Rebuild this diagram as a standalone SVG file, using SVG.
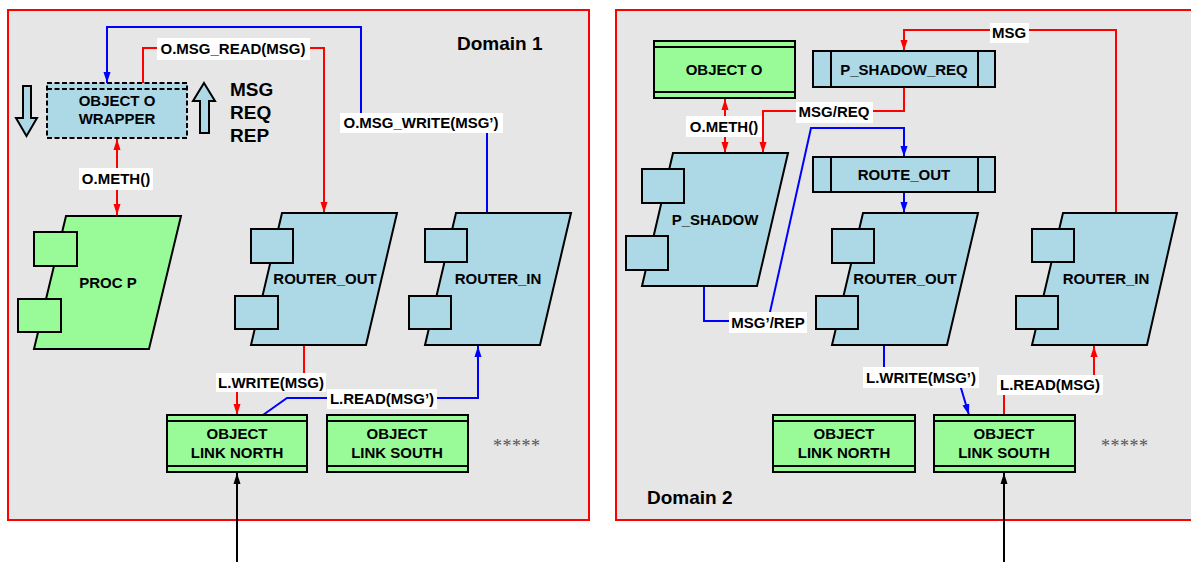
<svg xmlns="http://www.w3.org/2000/svg" width="1191" height="562" viewBox="0 0 1191 562">
<style>
text{font-family:"Liberation Sans",Arial,sans-serif;font-weight:bold;fill:#000}
.t{font-size:15px;text-anchor:middle}
.lbl{font-size:15px;text-anchor:middle}
.big{font-size:19px}
.dom{fill:#e6e6e6;stroke:#ff0000;stroke-width:2}
.g{fill:#98fb98;stroke:#000;stroke-width:2}
.b{fill:#add8e6;stroke:#000;stroke-width:2}
.ln{fill:none;stroke:#000;stroke-width:2}
.lb{fill:#fff}
.r{fill:none;stroke:#ff0000;stroke-width:2}
.bl{fill:none;stroke:#0000ff;stroke-width:2}
.k{fill:none;stroke:#000;stroke-width:2}
.star{font-family:"Liberation Serif","Times New Roman",serif;font-weight:normal;font-size:18px;fill:#555}
</style>
<defs>
<marker id="ar" markerUnits="userSpaceOnUse" markerWidth="11" markerHeight="8" refX="11" refY="4" orient="auto-start-reverse"><path d="M0,0.5 L11,4 L0,7.5 z" fill="#ff0000"/></marker>
<marker id="ab" markerUnits="userSpaceOnUse" markerWidth="11" markerHeight="8" refX="11" refY="4" orient="auto"><path d="M0,0.5 L11,4 L0,7.5 z" fill="#0000ff"/></marker>
<marker id="ak" markerUnits="userSpaceOnUse" markerWidth="11" markerHeight="8" refX="11" refY="4" orient="auto"><path d="M0,0.5 L11,4 L0,7.5 z" fill="#000"/></marker>
<g id="proc">
<rect x="-31" y="16" width="43" height="34"/>
<rect x="-47" y="83" width="43" height="33"/>
</g>
</defs>
<rect x="0" y="0" width="1191" height="562" fill="#fff"/>
<g id="domain1">
<rect class="dom" x="8" y="10" width="581" height="510"/>
<text class="big" x="457" y="50">Domain 1</text>
</g>
<g id="domain2">
<rect class="dom" x="616" y="10" width="600" height="510"/>
<text class="big" x="647" y="504">Domain 2</text>
</g>

<g id="connectors">
<!-- domain 1 -->
<polyline class="bl" points="487,213 487,120 361,120 361,27 107,27 107,83" marker-end="url(#ab)"/>
<polyline class="r" points="143,83 143,48 324,48 324,213" marker-end="url(#ar)"/>
<line class="r" x1="117" y1="139" x2="117" y2="215" marker-start="url(#ar)" marker-end="url(#ar)"/>
<polyline class="r" points="304,346 304,382 237,382 237,415" marker-end="url(#ar)"/>
<polyline class="bl" points="263,415 287,398 478,398 478,346" marker-end="url(#ab)"/>
<line class="k" x1="237" y1="562" x2="237" y2="473" marker-end="url(#ak)"/>
<!-- domain 2 -->
<polyline class="r" points="1116,213 1116,30 904,30 904,51" marker-end="url(#ar)"/>
<polyline class="r" points="904,88 904,111 763,111 763,153" marker-end="url(#ar)"/>
<line class="r" x1="725" y1="99" x2="725" y2="153" marker-start="url(#ar)" marker-end="url(#ar)"/>
<polyline class="bl" points="704,287 704,321 770,321 770,312 811,128 904,128 904,157" marker-end="url(#ab)"/>
<line class="bl" x1="904" y1="193" x2="904" y2="213" marker-end="url(#ab)"/>
<polyline class="bl" points="884,346 884,378 958,378 969,415" marker-end="url(#ab)"/>
<polyline class="r" points="1004,415 1004,385 1094,385 1094,346" marker-end="url(#ar)"/>
<line class="k" x1="1004" y1="562" x2="1004" y2="473" marker-end="url(#ak)"/>
<!-- labels -->
<rect class="lb" x="157" y="38" width="153" height="22"/>
<text class="lbl" x="233" y="54">O.MSG_READ(MSG)</text>
<rect class="lb" x="340" y="113" width="163" height="20"/>
<text class="lbl" x="421" y="128">O.MSG_WRITE(MSG’)</text>
<rect class="lb" x="79" y="168" width="74" height="22"/>
<text class="lbl" x="116" y="184">O.METH()</text>
<rect class="lb" x="216" y="373" width="110" height="19"/>
<text class="lbl" x="271" y="388">L.WRITE(MSG)</text>
<rect class="lb" x="327" y="389" width="110" height="20"/>
<text class="lbl" x="382" y="404">L.READ(MSG’)</text>
<rect class="lb" x="990" y="23" width="39" height="20"/>
<text class="lbl" x="1009" y="38">MSG</text>
<rect class="lb" x="796" y="102" width="77" height="21"/>
<text class="lbl" x="834" y="117">MSG/REQ</text>
<rect class="lb" x="686" y="116" width="76" height="21"/>
<text class="lbl" x="724" y="132">O.METH()</text>
<rect class="lb" x="729" y="312" width="78" height="21"/>
<text class="lbl" x="768" y="328">MSG’/REP</text>
<rect class="lb" x="863" y="367" width="116" height="21"/>
<text class="lbl" x="921" y="383">L.WRITE(MSG’)</text>
<rect class="lb" x="997" y="375" width="106" height="20"/>
<text class="lbl" x="1050" y="390">L.READ(MSG)</text>
</g>

<g id="wrapper">
<rect x="47" y="83" width="140" height="55" fill="#add8e6" stroke="#000" stroke-width="2" stroke-dasharray="5,2.5"/>
<line x1="47" y1="89" x2="187" y2="89" stroke="#000" stroke-width="2" stroke-dasharray="5,2.5"/>
<text class="t" x="117" y="106">OBJECT O</text>
<text class="t" x="117" y="124">WRAPPER</text>
</g>
<g id="arrow-down">
<path class="b" d="M23,86 L31,86 L31,118 L37,118 L26.5,136 L16,118 L23,118 z"/>
</g>
<g id="arrow-up">
<path class="b" d="M204,83 L215,101 L209,101 L209,133 L200,133 L200,101 L193,101 z"/>
</g>
<g id="msg-legend">
<text class="big" x="230" y="96">MSG</text>
<text class="big" x="230" y="119">REQ</text>
<text class="big" x="230" y="142">REP</text>
</g>

<g id="proc-p">
<path class="g" d="M66,216 L181,216 L149,349 L34,349 z"/>
<g class="g"><rect x="34" y="232" width="43" height="34"/><rect x="18" y="299" width="43" height="33"/></g>
<text class="t" x="108" y="288">PROC P</text>
</g>
<g id="router-out-1">
<path class="b" d="M282,213 L397,213 L366,345 L251,345 z"/>
<g class="b"><rect x="251" y="229" width="42" height="34"/><rect x="235" y="296" width="43" height="33"/></g>
<text class="t" x="325" y="284">ROUTER_OUT</text>
</g>
<g id="router-in-1">
<path class="b" d="M456,213 L571,213 L540,345 L425,345 z"/>
<g class="b"><rect x="425" y="229" width="42" height="33"/><rect x="409" y="296" width="42" height="33"/></g>
<text class="t" x="498" y="284">ROUTER_IN</text>
</g>
<g id="link-north-1">
<rect class="g" x="167" y="415" width="140" height="57"/>
<line class="ln" x1="167" y1="421" x2="307" y2="421"/><line class="ln" x1="167" y1="466" x2="307" y2="466"/>
<text class="t" x="237" y="439">OBJECT</text>
<text class="t" x="237" y="458">LINK NORTH</text>
</g>
<g id="link-south-1">
<rect class="g" x="327" y="415" width="141" height="57"/>
<line class="ln" x1="327" y1="421" x2="468" y2="421"/><line class="ln" x1="327" y1="466" x2="468" y2="466"/>
<text class="t" x="397" y="439">OBJECT</text>
<text class="t" x="397" y="458">LINK SOUTH</text>
</g>
<text class="star" x="493" y="452" letter-spacing="0.5">*****</text>

<g id="object-o">
<rect class="g" x="654" y="41" width="141" height="57"/>
<line class="ln" x1="654" y1="47" x2="795" y2="47"/><line class="ln" x1="654" y1="92" x2="795" y2="92"/>
<text class="t" x="724" y="75">OBJECT O</text>
</g>
<g id="p-shadow-req">
<rect class="b" x="813" y="51" width="182" height="36"/>
<line class="ln" x1="831" y1="51" x2="831" y2="87"/><line class="ln" x1="978" y1="51" x2="978" y2="87"/>
<text class="t" x="904" y="75">P_SHADOW_REQ</text>
</g>
<g id="route-out">
<rect class="b" x="813" y="157" width="182" height="35"/>
<line class="ln" x1="831" y1="157" x2="831" y2="192"/><line class="ln" x1="978" y1="157" x2="978" y2="192"/>
<text class="t" x="904" y="180">ROUTE_OUT</text>
</g>
<g id="p-shadow">
<path class="b" d="M673,153 L788,153 L757,286 L642,286 z"/>
<g class="b"><rect x="642" y="169" width="42" height="34"/><rect x="626" y="236" width="42" height="34"/></g>
<text class="t" x="715" y="225">P_SHADOW</text>
</g>
<g id="router-out-2">
<path class="b" d="M863,213 L978,213 L947,345 L832,345 z"/>
<g class="b"><rect x="832" y="229" width="42" height="34"/><rect x="816" y="296" width="42" height="33"/></g>
<text class="t" x="905" y="284">ROUTER_OUT</text>
</g>
<g id="router-in-2">
<path class="b" d="M1063,213 L1177,213 L1147,345 L1032,345 z"/>
<g class="b"><rect x="1032" y="229" width="42" height="33"/><rect x="1016" y="296" width="42" height="33"/></g>
<text class="t" x="1106" y="284">ROUTER_IN</text>
</g>
<g id="link-north-2">
<rect class="g" x="773" y="415" width="142" height="57"/>
<line class="ln" x1="773" y1="421" x2="915" y2="421"/><line class="ln" x1="773" y1="466" x2="915" y2="466"/>
<text class="t" x="844" y="439">OBJECT</text>
<text class="t" x="844" y="458">LINK NORTH</text>
</g>
<g id="link-south-2">
<rect class="g" x="934" y="415" width="141" height="57"/>
<line class="ln" x1="934" y1="421" x2="1075" y2="421"/><line class="ln" x1="934" y1="466" x2="1075" y2="466"/>
<text class="t" x="1004" y="439">OBJECT</text>
<text class="t" x="1004" y="458">LINK SOUTH</text>
</g>
<text class="star" x="1101" y="452" letter-spacing="0.5">*****</text>
</svg>
